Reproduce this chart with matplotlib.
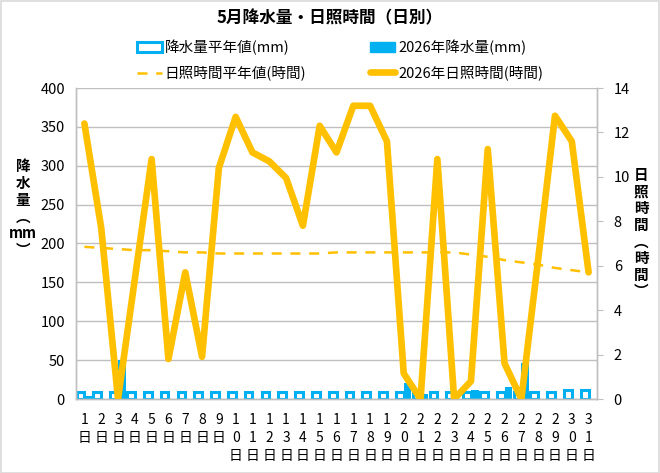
import matplotlib
matplotlib.use("Agg")
import matplotlib.pyplot as plt
from matplotlib.patches import Rectangle, Patch
from matplotlib.lines import Line2D
import numpy as np

plt.rcParams['font.family'] = ['Noto Sans CJK JP', 'DejaVu Sans']

days = list(range(1, 32))
day_labels = ["\n".join(list(str(d))) + "\n日" for d in days]

precip_avg = [9.5, 9.5, 9.5, 9.5, 9.5, 9.5, 9.5, 9.5, 9.5, 9.5, 9.5, 9.5, 9.5, 9.5, 9.5, 9,
              9, 9, 9, 9, 9, 9, 9, 9, 9, 9, 9, 9, 9, 11, 11]
precip_2026 = [4, 0, 50, 0, 0, 0, 0, 0, 0, 0, 0, 0, 0, 0, 0, 0,
               0, 0, 0, 21, 6, 0, 0, 11, 0, 15, 46, 0, 0, 0, 0]
sun_avg = [6.85, 6.8, 6.75, 6.7, 6.7, 6.65, 6.6, 6.6, 6.55, 6.55, 6.55, 6.55, 6.55, 6.55, 6.55, 6.6,
           6.6, 6.6, 6.6, 6.6, 6.6, 6.6, 6.6, 6.5, 6.4, 6.25, 6.15, 6.05, 5.9, 5.8, 5.7]
sun_2026 = [12.4, 7.7, 0, 5.4, 10.8, 1.8, 5.7, 1.9, 10.4, 12.7, 11.1, 10.7, 9.95, 7.8, 12.3, 11.1,
            13.2, 13.2, 11.6, 1.15, 0, 10.8, 0, 0.8, 11.25, 1.6, 0, 6.3, 12.75, 11.6, 5.7]

blue = '#00B0F0'
gold = '#FFC000'
grid = '#BFBFBF'

fig = plt.figure(figsize=(6.6, 4.73), dpi=100)
ax = fig.add_axes([76/660, 1-399/473, (597-76)/660, (399-88)/473])
ax2 = ax.twinx()

x = np.arange(len(days))
w = 0.46
ax.bar(x - w/2, precip_avg, width=w, facecolor='white', edgecolor=blue, linewidth=2.2, zorder=2)
ax.bar(x + w/2, precip_2026, width=w, color=blue, zorder=2)

ax.set_xlim(-0.5, len(days) - 0.5)
ax.set_ylim(0, 400)
ax.set_yticks(range(0, 401, 50))
ax.yaxis.grid(True, color=grid, linewidth=1)
ax.set_axisbelow(True)
ax.set_xticks(x)
ax.set_xticklabels(day_labels, fontsize=10, linespacing=1.35, va='top')
ax.tick_params(axis='x', length=0, pad=10)
ax.tick_params(axis='y', length=0, labelsize=10.5, pad=8)

ax2.plot(x, sun_avg, color=gold, linewidth=1.8, dashes=(4, 3.5), zorder=3)
ax2.plot(x, sun_2026, color=gold, linewidth=4.8, solid_joinstyle='round', solid_capstyle='round', zorder=4)
ax2.set_ylim(0, 14)
ax2.set_yticks(range(0, 15, 2))
ax2.tick_params(axis='y', length=4, color=grid, labelsize=10.5, pad=8)

for a in (ax, ax2):
    for s in a.spines.values():
        s.set_color(grid)
        s.set_linewidth(1)
    a.spines['top'].set_visible(False)

fig.text(0.5, 1-18/473, '5月降水量・日照時間（日別）', ha='center', va='center',
         fontsize=12, fontweight='bold')

fig.text(23/660, 1-208/473, '降\n水\n量\n︵\nmm\n︶', ha='center', va='center',
         fontsize=10.5, fontweight='bold', linespacing=1.05)
fig.text(641/660, 1-233/473, '日\n照\n時\n間\n︵\n時\n間\n︶', ha='center', va='center',
         fontsize=10.5, fontweight='bold', linespacing=1.05)

handles = [
    Patch(facecolor='white', edgecolor=blue, linewidth=2.2),
    Line2D([], [], color=gold, linewidth=1.8, dashes=(4, 3.5)),
    Patch(facecolor=blue, edgecolor=blue),
    Line2D([], [], color=gold, linewidth=4.8, solid_capstyle='round'),
]
labels = ['降水量平年値(mm)', '日照時間平年値(時間)', '2026年降水量(mm)', '2026年日照時間(時間)']
fig.legend(handles, labels, ncol=2, loc='center', bbox_to_anchor=(0.515, 1-60/473),
           frameon=False, fontsize=10.5, handlelength=1.7, handletextpad=0.2,
           columnspacing=4.4, labelspacing=0.75, borderaxespad=0)

fig.add_artist(Rectangle((0.001, 0.001), 0.997, 0.997, transform=fig.transFigure,
                         fill=False, edgecolor='#D9D9D9', linewidth=1.2))

fig.savefig('out.png', dpi=100)
